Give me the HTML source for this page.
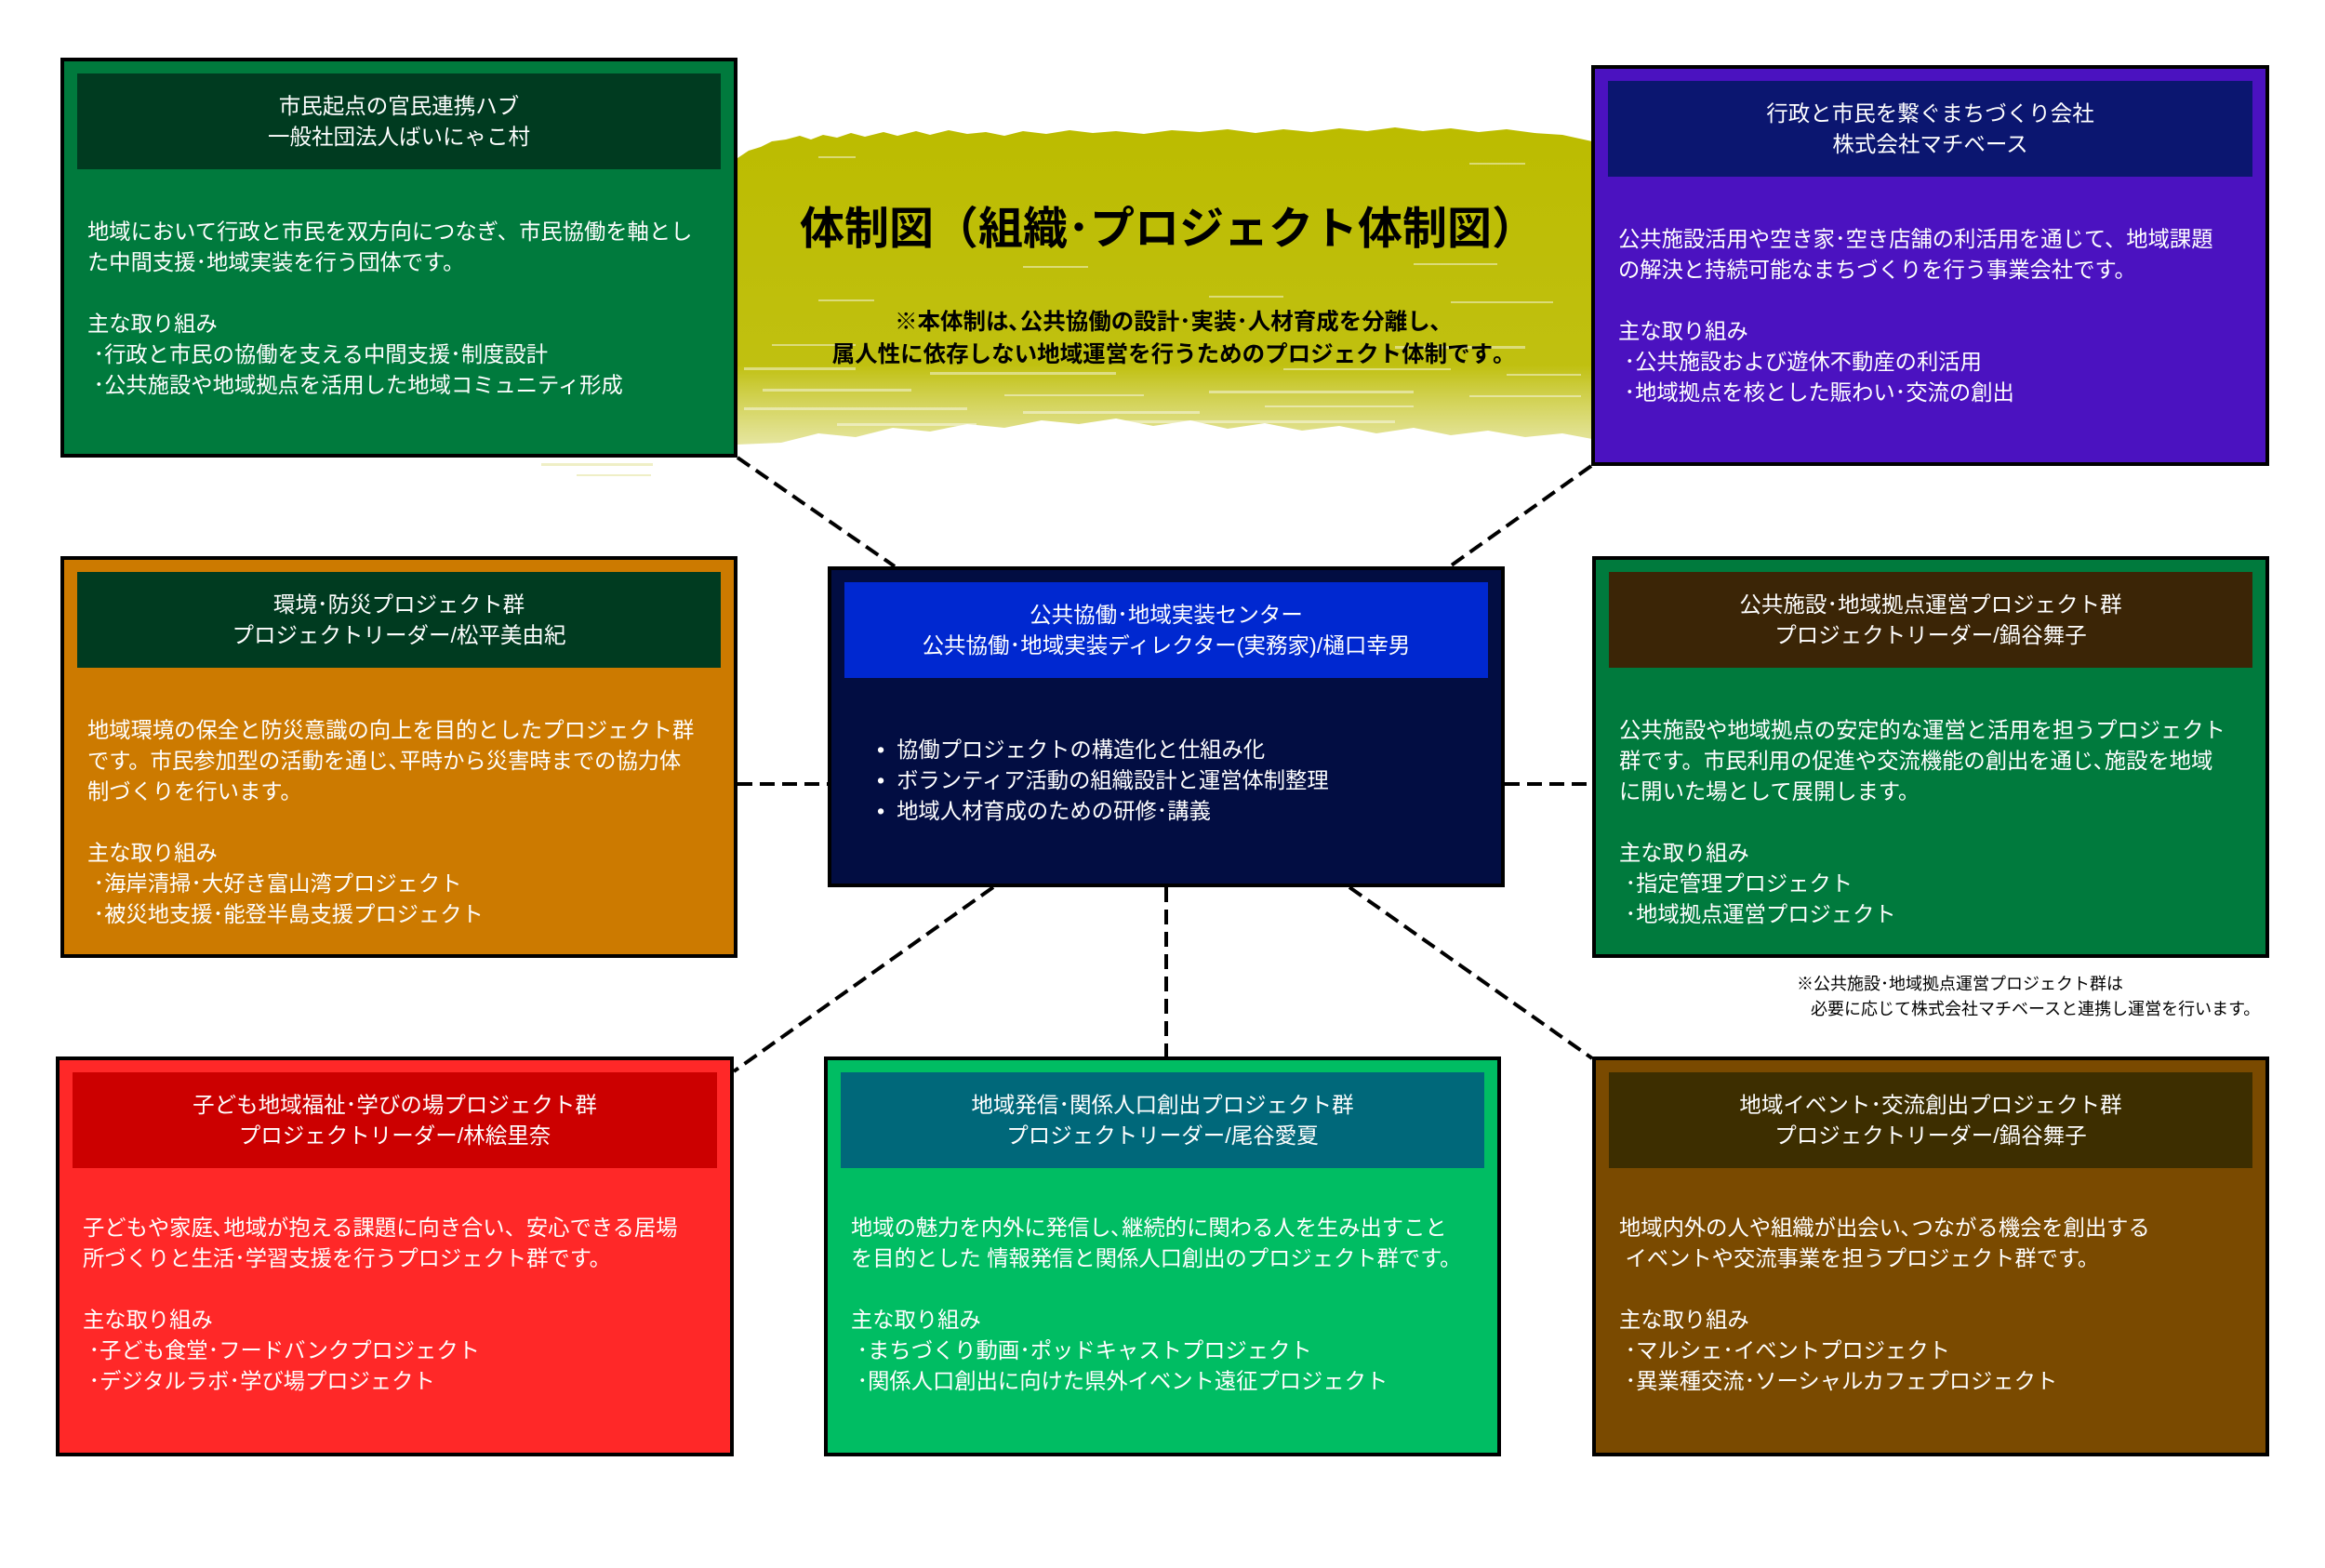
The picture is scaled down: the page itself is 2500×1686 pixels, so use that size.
<!DOCTYPE html>
<html><head><meta charset="utf-8">
<style>
html,body{margin:0;padding:0;}
body{width:2500px;height:1686px;position:relative;background:#fff;overflow:hidden;
font-family:"Liberation Sans","Noto Sans CJK JP",sans-serif;}
.box{position:absolute;box-sizing:border-box;border:4px solid #000;}
.hd{position:absolute;left:14px;right:14px;top:13px;height:103px;display:flex;align-items:center;justify-content:center;text-align:center;color:#fff;font-size:23.5px;line-height:33px;}
.bd{position:absolute;left:25px;top:167px;color:#fff;font-size:23.3px;line-height:33px;white-space:pre;}
.t{position:absolute;color:#000;}
</style></head><body>
<svg width="2500" height="1686" style="position:absolute;left:0;top:0">
<defs>
<linearGradient id="fade" x1="0" y1="0" x2="0" y2="1">
<stop offset="0" stop-color="#bcbc00"/><stop offset="0.75" stop-color="#c0c010"/><stop offset="1" stop-color="#cccc40" stop-opacity="0.5"/>
</linearGradient>
</defs>
<path d="M793,170 L805,162 818,158 830,152 845,150 860,146 872,150 885,145 900,148 915,143 930,147 950,142 965,146 985,141 1000,145 1020,140 1040,144 1060,142 1080,146 1100,141 1125,144 1150,140 1175,143 1200,141 1230,144 1260,140 1290,142 1320,139 1350,143 1380,139 1410,142 1440,138 1470,141 1500,137 1530,141 1560,138 1590,142 1620,139 1650,143 1680,145 1712,152 L1712,472 1680,466 1640,470 1600,463 1560,468 1520,460 1480,466 1440,458 1400,463 1360,455 1320,461 1280,452 1240,458 1200,450 1160,456 1120,452 1080,460 1040,456 1000,464 960,460 920,470 880,466 840,476 793,478 Z" fill="url(#fade)"/>
<g fill="#fff" opacity="0.45">
<rect x="880" y="168" width="40" height="2"/><rect x="1580" y="175" width="60" height="2"/>
<rect x="1100" y="286" width="70" height="2"/><rect x="1520" y="283" width="90" height="2"/>
<rect x="880" y="322" width="60" height="2"/><rect x="1300" y="318" width="80" height="2"/><rect x="1560" y="324" width="110" height="2"/>
<rect x="830" y="370" width="90" height="2"/><rect x="1500" y="372" width="140" height="3"/>
<rect x="800" y="395" width="120" height="3"/><rect x="1000" y="400" width="200" height="3"/><rect x="1380" y="396" width="180" height="2"/><rect x="1620" y="402" width="80" height="2"/>
<rect x="820" y="418" width="160" height="3"/><rect x="1080" y="424" width="150" height="2"/><rect x="1300" y="420" width="220" height="3"/><rect x="1580" y="425" width="120" height="2"/>
<rect x="800" y="438" width="240" height="3"/><rect x="1100" y="442" width="190" height="3"/><rect x="1360" y="436" width="160" height="2"/>
<rect x="900" y="455" width="150" height="3"/><rect x="1200" y="452" width="300" height="3"/>
</g>
<g fill="#d8d870" opacity="0.4"><rect x="582" y="498" width="120" height="3"/><rect x="620" y="510" width="80" height="2"/></g>
<g stroke="#000" stroke-width="4" stroke-dasharray="16 8" fill="none">
<line x1="793" y1="492" x2="962" y2="609"/>
<line x1="1711" y1="501" x2="1559" y2="609"/>
<line x1="793" y1="843" x2="890" y2="843"/>
<line x1="1618" y1="843" x2="1712" y2="843"/>
<line x1="1068" y1="954" x2="789" y2="1152"/>
<line x1="1254" y1="954" x2="1254" y2="1136"/>
<line x1="1451" y1="954" x2="1712" y2="1138"/>
</g>
</svg>

<div class="t" style="left:780px;width:952px;top:216px;text-align:center;font-size:48px;line-height:62px;font-weight:bold;">体制図（組織･プロジェクト体制図）</div>
<div class="t" style="left:780px;width:952px;top:329px;text-align:center;font-size:24.5px;line-height:35px;font-weight:bold;">※本体制は､公共協働の設計･実装･人材育成を分離し､<br>属人性に依存しない地域運営を行うためのプロジェクト体制です｡</div>

<div class="box" style="left:65px;top:62px;width:728px;height:430px;background:#007a3d;">
<div class="hd" style="background:#003b20;">市民起点の官民連携ハブ<br>一般社団法人ばいにゃこ村</div>
<div class="bd">地域において行政と市民を双方向につなぎ、市民協働を軸とし
た中間支援･地域実装を行う団体です。

主な取り組み
 ･行政と市民の協働を支える中間支援･制度設計
 ･公共施設や地域拠点を活用した地域コミュニティ形成</div>
</div>

<div class="box" style="left:1711px;top:70px;width:729px;height:431px;background:#4b12c0;">
<div class="hd" style="background:#0b1670;">行政と市民を繋ぐまちづくり会社<br>株式会社マチベース</div>
<div class="bd">公共施設活用や空き家･空き店舗の利活用を通じて、地域課題
の解決と持続可能なまちづくりを行う事業会社です。

主な取り組み
 ･公共施設および遊休不動産の利活用
 ･地域拠点を核とした賑わい･交流の創出</div>
</div>

<div class="box" style="left:890px;top:609px;width:728px;height:345px;background:#020d42;">
<div class="hd" style="background:#0028d0;">公共協働･地域実装センター<br>公共協働･地域実装ディレクター(実務家)/樋口幸男</div>
<div class="bd" style="top:177px;left:49px;">•  協働プロジェクトの構造化と仕組み化
•  ボランティア活動の組織設計と運営体制整理
•  地域人材育成のための研修･講義</div>
</div>

<div class="box" style="left:65px;top:598px;width:728px;height:432px;background:#cc7a00;">
<div class="hd" style="background:#003b20;">環境･防災プロジェクト群<br>プロジェクトリーダー/松平美由紀</div>
<div class="bd">地域環境の保全と防災意識の向上を目的としたプロジェクト群
です。市民参加型の活動を通じ､平時から災害時までの協力体
制づくりを行います。

主な取り組み
 ･海岸清掃･大好き富山湾プロジェクト
 ･被災地支援･能登半島支援プロジェクト</div>
</div>

<div class="box" style="left:1712px;top:598px;width:728px;height:432px;background:#007a3d;">
<div class="hd" style="background:#3b2506;">公共施設･地域拠点運営プロジェクト群<br>プロジェクトリーダー/鍋谷舞子</div>
<div class="bd">公共施設や地域拠点の安定的な運営と活用を担うプロジェクト
群です。市民利用の促進や交流機能の創出を通じ､施設を地域
に開いた場として展開します。

主な取り組み
 ･指定管理プロジェクト
 ･地域拠点運営プロジェクト</div>
</div>

<div class="t" style="left:1932px;top:1045px;font-size:18px;line-height:27px;white-space:pre;">※公共施設･地域拠点運営プロジェクト群は
   必要に応じて株式会社マチベースと連携し運営を行います。</div>

<div class="box" style="left:60px;top:1136px;width:729px;height:430px;background:#ff2828;">
<div class="hd" style="background:#cc0000;">子ども地域福祉･学びの場プロジェクト群<br>プロジェクトリーダー/林絵里奈</div>
<div class="bd" style="top:164px;">子どもや家庭､地域が抱える課題に向き合い、安心できる居場
所づくりと生活･学習支援を行うプロジェクト群です。

主な取り組み
 ･子ども食堂･フードバンクプロジェクト
 ･デジタルラボ･学び場プロジェクト</div>
</div>

<div class="box" style="left:886px;top:1136px;width:728px;height:430px;background:#00bd63;">
<div class="hd" style="background:#00687a;">地域発信･関係人口創出プロジェクト群<br>プロジェクトリーダー/尾谷愛夏</div>
<div class="bd" style="top:164px;">地域の魅力を内外に発信し､継続的に関わる人を生み出すこと
を目的とした 情報発信と関係人口創出のプロジェクト群です。

主な取り組み
 ･まちづくり動画･ポッドキャストプロジェクト
 ･関係人口創出に向けた県外イベント遠征プロジェクト</div>
</div>

<div class="box" style="left:1712px;top:1136px;width:728px;height:430px;background:#7a4a00;">
<div class="hd" style="background:#3d2e00;">地域イベント･交流創出プロジェクト群<br>プロジェクトリーダー/鍋谷舞子</div>
<div class="bd" style="top:164px;">地域内外の人や組織が出会い､つながる機会を創出する
 イベントや交流事業を担うプロジェクト群です。

主な取り組み
 ･マルシェ･イベントプロジェクト
 ･異業種交流･ソーシャルカフェプロジェクト</div>
</div>
</body></html>
